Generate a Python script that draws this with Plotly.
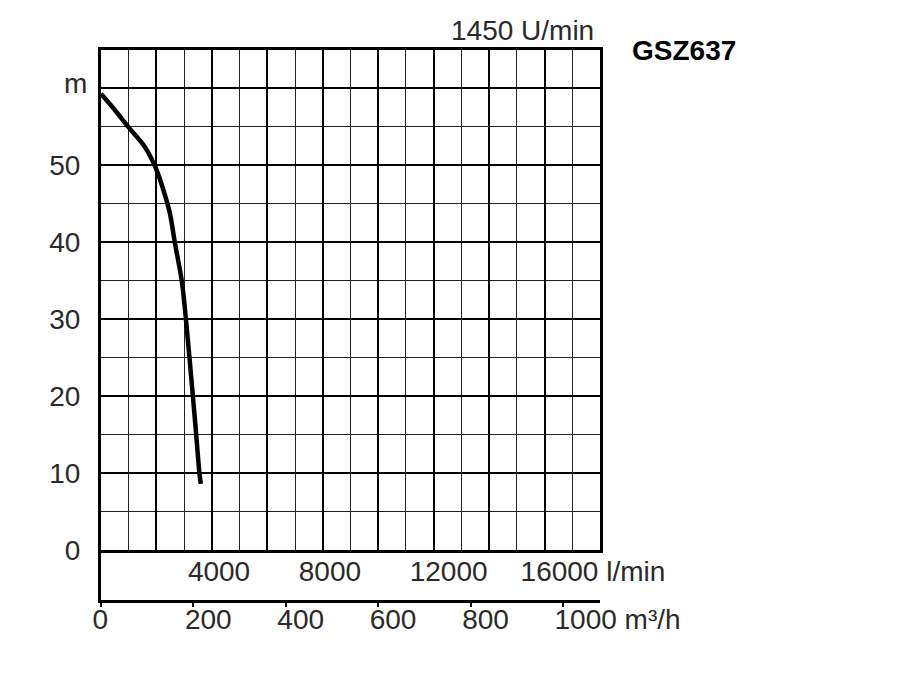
import plotly.graph_objects as go

# Kennlinie GSZ637, 1450 U/min (Q in m3/h, H in m)
q_m3h = [0, 30, 59, 95, 119, 135, 149, 160, 175, 184, 199, 206, 213, 216]
h_m = [59.3, 57.2, 55.0, 52.4, 49.6, 46.8, 43.8, 39.9, 34.9, 29.9, 19.9, 15.0, 10.0, 8.6]

h_ticks = [0, 10, 20, 30, 40, 50, 60]
h_ticktext = ['0', '10', '20', '30', '40', '50', '']
h_minor = [5, 15, 25, 35, 45, 55]

q_ticks = [0, 200, 400, 600, 800, 1000]
q_ticktext = ['0', '200', '400', '600', '800', '1000 m³/h']

lmin_ticks = [4000, 8000, 12000, 16000]
lmin_ticktext = ['4000', '8000', '12000', '16000 l/min']

q_max = 1080
lmin_max = q_max * 1000 / 60
h_max = 65

font_lbl = dict(family='Liberation Sans, Arial', size=28, color='#2a2a2a')

fig = go.Figure()

fig.add_trace(go.Scatter(
    x=q_m3h,
    y=h_m,
    mode='lines',
    line=dict(color='black', width=4.5, shape='spline', smoothing=0.8),
    showlegend=False,
    hoverinfo='skip',
))

# leere Spuren, damit die unteren Achsen gezeichnet werden
fig.add_trace(go.Scatter(x=[], y=[], xaxis='x2', yaxis='y2', showlegend=False, hoverinfo='skip'))
fig.add_trace(go.Scatter(x=[], y=[], xaxis='x3', yaxis='y', showlegend=False, hoverinfo='skip'))

fig.update_layout(
    width=900,
    height=700,
    plot_bgcolor='white',
    paper_bgcolor='white',
    margin=dict(l=93, r=308, t=42, b=108, pad=0, autoexpand=False),
    showlegend=False,
    # Raster + Förderhöhe
    xaxis=dict(
        domain=[0, 1], anchor='y', range=[0, q_max],
        tick0=0, dtick=120, showticklabels=False, ticks='',
        showgrid=True, gridcolor='black', gridwidth=2,
        minor=dict(tick0=0, dtick=60, showgrid=True, gridcolor='#222222', gridwidth=1),
        zeroline=False, showline=True, linecolor='black', linewidth=3, mirror=True,
    ),
    yaxis=dict(
        domain=[50 / 550, 1], anchor='x', range=[0, h_max],
        tickvals=h_ticks, ticktext=h_ticktext, ticks='',
        tickfont=font_lbl, ticklabelstandoff=12,
        showgrid=True, gridcolor='black', gridwidth=2,
        minor=dict(tickvals=h_minor, showgrid=True, gridcolor='#222222', gridwidth=1),
        zeroline=False, showline=True, linecolor='black', linewidth=3, mirror=True,
    ),
    # m3/h Achse unten
    xaxis2=dict(
        domain=[0, 1], anchor='y2', range=[0, q_max],
        tickvals=q_ticks, ticktext=q_ticktext, tickangle=0,
        ticks='outside', ticklen=4, tickwidth=2, tickcolor='black',
        ticklabelposition='outside right', ticklabelshift=-11, ticklabelstandoff=-8,
        tickfont=font_lbl, showgrid=False, zeroline=False,
        showline=True, linecolor='black', linewidth=3,
    ),
    yaxis2=dict(
        domain=[0, 50 / 550], anchor='x2', range=[0, 1],
        showticklabels=False, ticks='', showgrid=False, zeroline=False,
        showline=True, linecolor='black', linewidth=3,
    ),
    # l/min Achse
    xaxis3=dict(
        overlaying='x', anchor='y', side='bottom', range=[0, lmin_max],
        tickvals=lmin_ticks, ticktext=lmin_ticktext, tickangle=0, ticks='',
        ticklabelposition='outside right', ticklabelshift=-24, ticklabelstandoff=2,
        tickfont=font_lbl, showgrid=False, zeroline=False, showline=False,
    ),
)

fig.add_annotation(
    text='1450 U/min', xref='paper', yref='paper', x=1, y=1,
    xanchor='right', yanchor='bottom', xshift=-4, yshift=2,
    showarrow=False, font=font_lbl,
)
fig.add_annotation(
    text='<b>GSZ637</b>', xref='paper', yref='paper', x=1.06, y=1,
    xanchor='left', yanchor='middle',
    showarrow=False, font=dict(family='Liberation Sans, Arial', size=28, color='black'),
)
fig.add_annotation(
    text='m', xref='paper', yref='y', x=0, y=60.6,
    xanchor='right', yanchor='middle', xshift=-12,
    showarrow=False, font=font_lbl,
)

fig.write_html("out.html")
